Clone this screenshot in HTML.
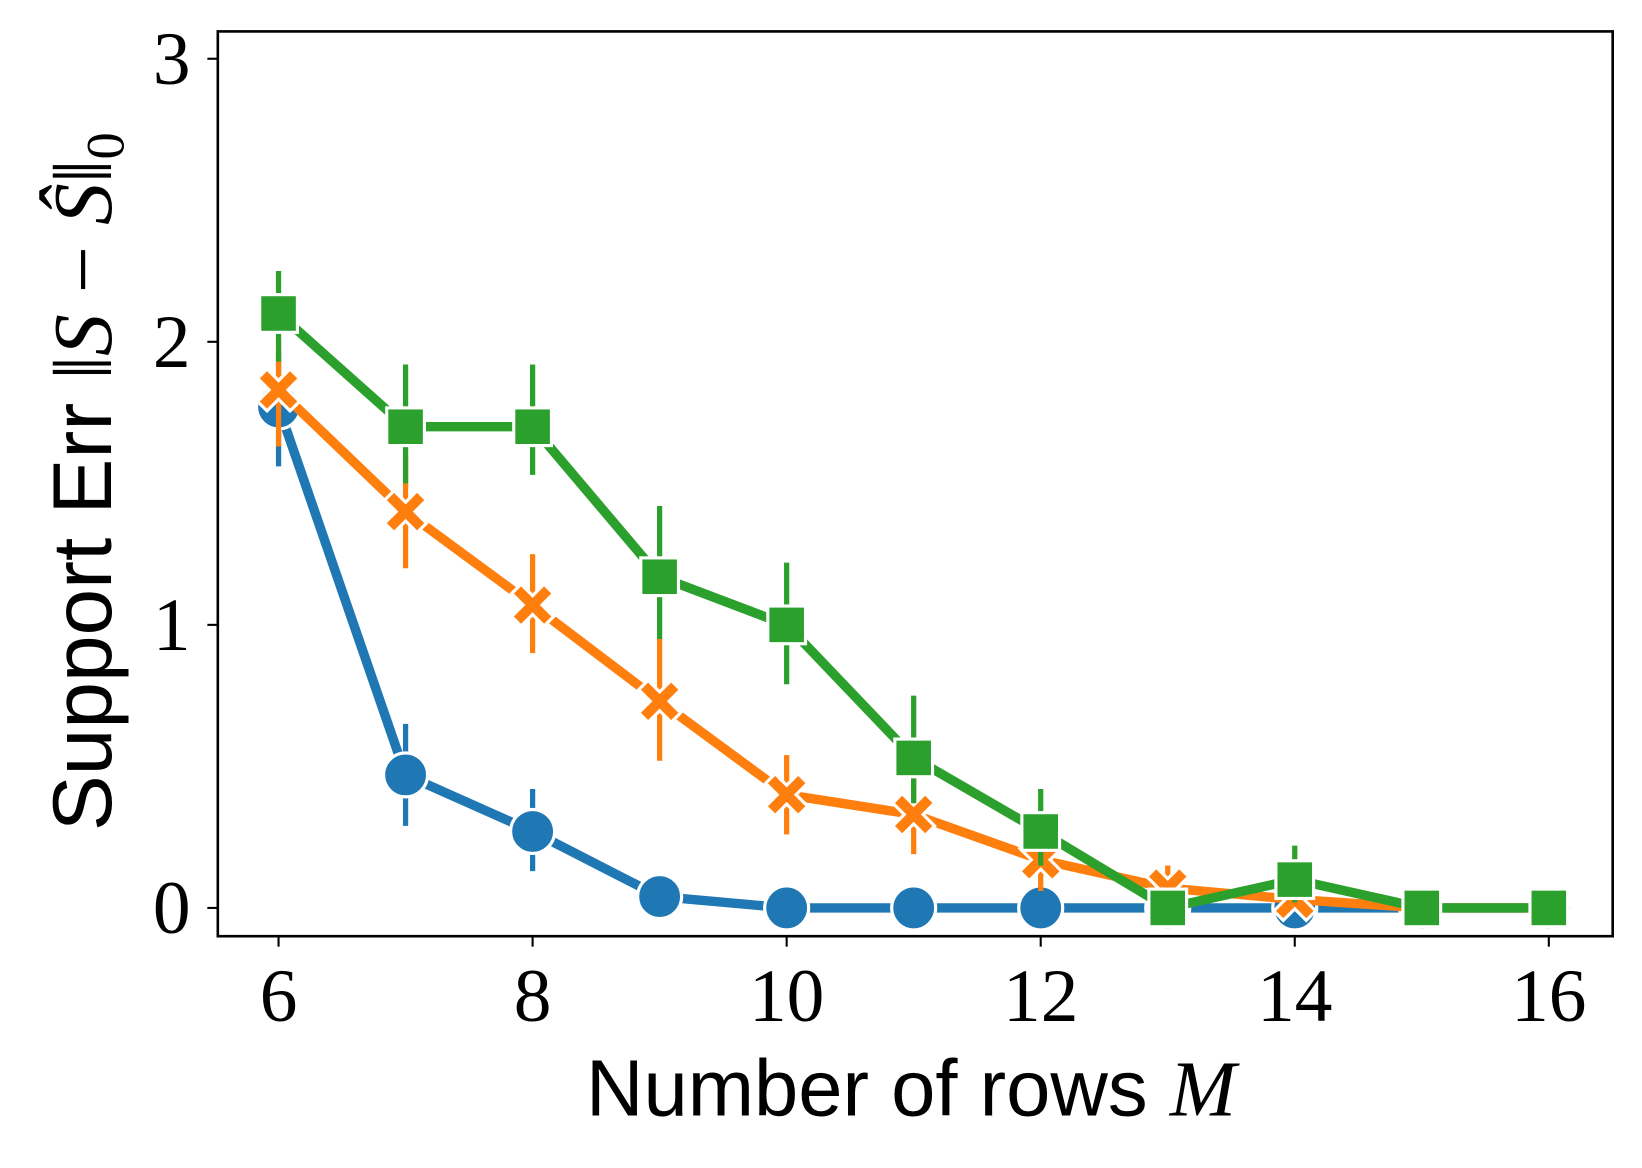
<!DOCTYPE html>
<html><head><meta charset="utf-8"><style>
body{margin:0;background:#fff;width:1642px;height:1163px;overflow:hidden}
svg text{font-family:"Liberation Serif",serif}
</style></head><body>
<svg width="1642" height="1163" xmlns="http://www.w3.org/2000/svg"><g id="chart" transform="scale(1.0472)"></g></svg>
<script>
const xs=[6,7,8,9,10,11,12,13,14,15,16];
const xTicks=[6,8,10,12,14,16];
const yTicks=[0,1,2,3];
const blue=[1.77,0.47,0.27,0.04,0,0,0,0,0,0,0];
const blueLo=[1.56,0.29,0.13,0,0,0,0,0,0,0,0];
const blueHi=[1.96,0.65,0.42,0.06,0,0,0,0,0,0,0];
const orange=[1.83,1.40,1.07,0.73,0.40,0.33,0.17,0.07,0.03,0,0];
const orangeLo=[1.63,1.20,0.90,0.52,0.26,0.19,0.06,0,0,0,0];
const orangeHi=[2.00,1.60,1.25,0.95,0.54,0.47,0.28,0.15,0.10,0,0];
const green=[2.10,1.70,1.70,1.17,1.00,0.53,0.27,0.00,0.10,0,0];
const greenLo=[1.93,1.50,1.53,0.95,0.79,0.37,0.15,0,0.02,0,0];
const greenHi=[2.25,1.92,1.92,1.42,1.22,0.75,0.42,0,0.22,0,0];
const NS="http://www.w3.org/2000/svg";
const svg=document.getElementById('chart');
const X=v=>266+(v-6)*121.3;
const Y=v=>867-v*270.3;
function mk(t,a,p){const e=document.createElementNS(NS,t);for(const k in a)e.setAttribute(k,a[k]);(p||svg).appendChild(e);return e;}
const frame=mk('rect',{x:208,y:30,width:1332,height:864,fill:'none',stroke:'#000','stroke-width':2.5});


xTicks.forEach(t=>{
 const l=mk('line',{x1:X(t),x2:X(t),y1:894,y2:904,stroke:'#000','stroke-width':2});
 
 
 const tx=mk('text',{x:X(t),y:975,'font-size':72,'text-anchor':'middle'});tx.textContent=t;
 
 
});
yTicks.forEach(t=>{
 const l=mk('line',{x1:198,x2:208,y1:Y(t),y2:Y(t),stroke:'#000','stroke-width':2});
 
 
 const tx=mk('text',{x:182,y:Y(t)+24,'font-size':72,'text-anchor':'end'});tx.textContent=t;
 
 
});
function series(vals,lo,hi,color,marker,name){
 const g=mk('g',{});
 
 
 xs.forEach((x,i)=>{if(hi[i]>lo[i]){const e=mk('line',{x1:X(x),x2:X(x),y1:Y(lo[i]),y2:Y(hi[i]),stroke:color,'stroke-width':5},g);
  
  }});
 const pl=mk('polyline',{points:xs.map((x,i)=>X(x)+','+Y(vals[i])).join(' '),fill:'none',stroke:color,'stroke-width':9,'stroke-linejoin':'round'},g);
 
 
 xs.forEach((x,i)=>{const cx=X(x),cy=Y(vals[i]);let m;
  if(marker==='o')m=mk('circle',{cx:cx,cy:cy,r:21,fill:color,stroke:'#fff','stroke-width':3},g);
  else if(marker==='s')m=mk('rect',{x:cx-18,y:cy-18,width:36,height:36,fill:color,stroke:'#fff','stroke-width':3},g);
  else m=mk('path',{d:`M${cx-20},${cy-11}L${cx-11},${cy-20}L${cx},${cy-9}L${cx+11},${cy-20}L${cx+20},${cy-11}L${cx+9},${cy}L${cx+20},${cy+11}L${cx+11},${cy+20}L${cx},${cy+9}L${cx-11},${cy+20}L${cx-20},${cy+11}L${cx-9},${cy}Z`,fill:color,stroke:'#fff','stroke-width':3},g);
  
  });
}
series(blue,blueLo,blueHi,'#1f77b4','o','blue');
series(orange,orangeLo,orangeHi,'#ff7f0e','x','orange');
series(green,greenLo,greenHi,'#2ca02c','s','green');
const xl=mk('text',{x:870,y:1065,'font-size':76,'text-anchor':'middle',style:'font-family:"Liberation Sans",sans-serif'});
xl.innerHTML='Number of rows <tspan style="font-family:\'Liberation Serif\',serif" font-style="italic">M</tspan>';


const yl=mk('text',{x:0,y:0,'font-size':80,'text-anchor':'middle',transform:'translate(106,460) rotate(-90)',style:'font-family:"Liberation Sans",sans-serif'});
yl.innerHTML='Support Err <tspan style="font-family:\'Liberation Serif\',serif">‖<tspan font-style="italic">S</tspan> − <tspan font-style="italic">Ŝ</tspan>‖<tspan font-size="52" dy="12">0</tspan></tspan>';


</script>
</body></html>
